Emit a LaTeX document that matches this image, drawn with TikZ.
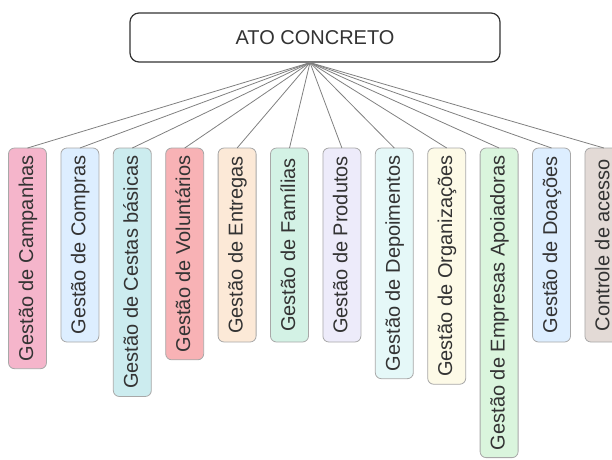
\documentclass[tikz,border=0pt]{standalone}
\usepackage{fontspec}
\setmainfont{Liberation Sans}

\definecolor{txtgray}{HTML}{333333}
\definecolor{boxgray}{HTML}{A8A8A8}
\definecolor{linegray}{HTML}{808080}
\definecolor{cpink}{HTML}{F5B5CB}
\definecolor{cblue}{HTML}{DDEEFF}
\definecolor{ccyan}{HTML}{CCECEF}
\definecolor{cred}{HTML}{F8B2B5}
\definecolor{cpeach}{HTML}{FCE9D7}
\definecolor{cmint}{HTML}{D3F2E5}
\definecolor{clilac}{HTML}{EDEBFA}
\definecolor{cice}{HTML}{E5F8F8}
\definecolor{ccream}{HTML}{FDFAE7}
\definecolor{cgreen}{HTML}{DAF5DD}
\definecolor{ctaupe}{HTML}{E3DAD6}

\begin{document}
\begin{tikzpicture}[
			x = 1pt, y = -1pt, % one unit per pixel, y downwards
			font = \fontsize{20}{24}\selectfont, % big sans text
			every node/.style = {text = txtgray},
			link/.style = {draw = linegray, line width = 0.8pt}
			]
			
			\tikzstyle{root}=[
			draw = txtgray,
			line width = 1.2pt,
			rounded corners = 9pt,
			fill = white,
			minimum width = 370pt,
			minimum height = 49pt
			]
			
			\tikzstyle{leaf}=[
			draw = boxgray,
			line width = 0.8pt,
			rounded corners = 6pt,
			rotate = 90,
			anchor = north east, % top left corner once turned
			outer sep = 0pt,
			inner ysep = 0pt,
			text height = 15pt,
			text depth = 4pt,
			minimum width = 194pt,
			minimum height = 38pt,
			inner xsep = 7.5pt
			]
			
			\useasboundingbox (0,0) rectangle (612,459);
			\clip (0,0) rectangle (612,459);
			
			\node[root] (ato) at (315,37.5) {ATO CONCRETO};
			\coordinate (hub) at ([xshift=-5pt]ato.south);
			
			\node[leaf, fill=cpink] (campanhas) at (8.5,148) {Gestão de Campanhas};
			\node[leaf, fill=cblue] (compras) at ([xshift=14.4pt]campanhas.south east) {Gestão de Compras};
			\node[leaf, fill=ccyan] (cestas) at ([xshift=14.4pt]compras.south east) {Gestão de Cestas básicas};
			\node[leaf, fill=cred] (voluntarios) at ([xshift=14.4pt]cestas.south east) {Gestão de Voluntários};
			\node[leaf, fill=cpeach] (entregas) at ([xshift=14.4pt]voluntarios.south east) {Gestão de Entregas};
			\node[leaf, fill=cmint] (familias) at ([xshift=14.4pt]entregas.south east) {Gestão de Famílias};
			\node[leaf, fill=clilac] (produtos) at ([xshift=14.4pt]familias.south east) {Gestão de Produtos};
			\node[leaf, fill=cice] (depoimentos) at ([xshift=14.4pt]produtos.south east) {Gestão de Depoimentos};
			\node[leaf, fill=ccream] (organizacoes) at ([xshift=14.4pt]depoimentos.south east) {Gestão de Organizações};
			\node[leaf, fill=cgreen] (empresas) at ([xshift=14.4pt]organizacoes.south east) {Gestão de Empresas Apoiadoras};
			\node[leaf, fill=cblue] (doacoes) at ([xshift=14.4pt]empresas.south east) {Gestão de Doações};
			\node[leaf, fill=ctaupe] (acesso) at ([xshift=14.4pt]doacoes.south east) {Controle de acesso};
			
			\path[link]
			(hub)	edge (campanhas.east)
					edge (compras.east)
					edge (cestas.east)
					edge (voluntarios.east)
					edge (entregas.east)
					edge (familias.east)
					edge (produtos.east)
					edge (depoimentos.east)
					edge (organizacoes.east)
					edge (empresas.east)
					edge (doacoes.east)
					edge (acesso.east)
			;
		\end{tikzpicture}
\end{document}
